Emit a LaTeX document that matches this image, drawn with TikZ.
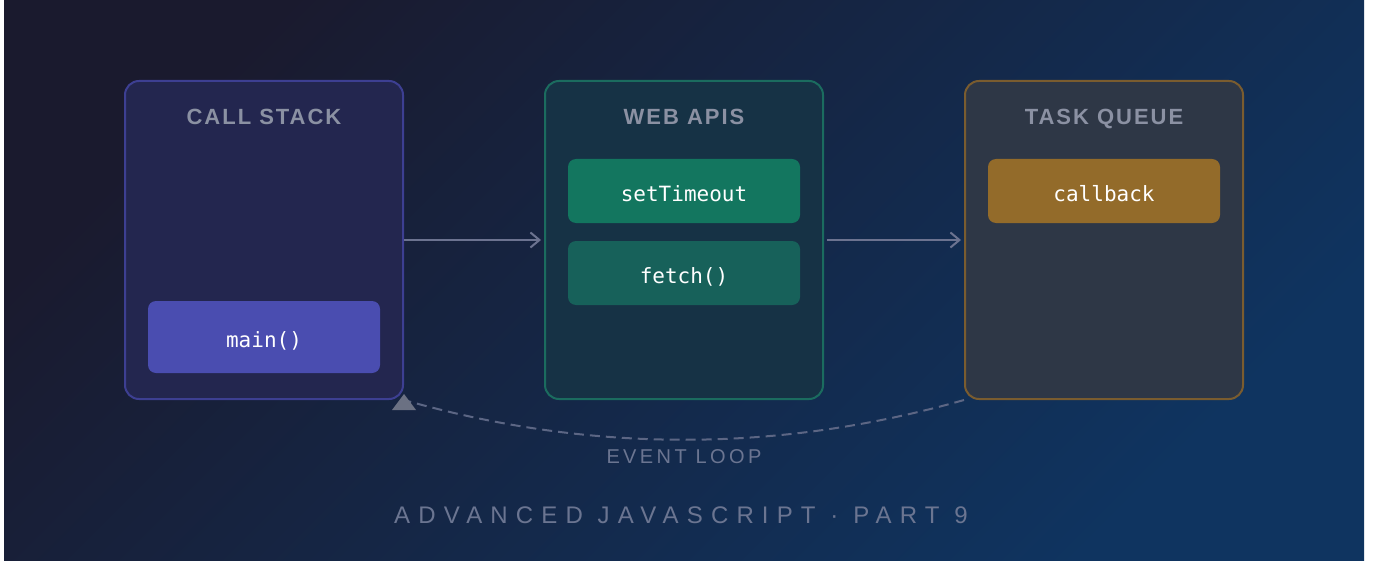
\documentclass[tikz,border=0pt]{standalone}
\usepackage{xcolor}
\usepackage{fontspec}
\usepackage{tikz}
\usetikzlibrary{positioning}
\usetikzlibrary{calc}
\usetikzlibrary{arrows.meta}

\setmainfont{Liberation Sans}
\newfontfamily\panelfont[LetterSpace=9]{Liberation Sans}
\newfontfamily\loopfont[LetterSpace=17]{Liberation Sans}
\newfontfamily\footfont[LetterSpace=34]{Liberation Sans}
\newfontfamily\codefont{DejaVu Sans Mono}

\definecolor{bgA}{HTML}{1A1A2E}
\definecolor{bgB}{HTML}{16213E}
\definecolor{bgC}{HTML}{0F3460}
\definecolor{stackfill}{HTML}{23264F}
\definecolor{stackline}{HTML}{3D3F92}
\definecolor{apifill}{HTML}{163245}
\definecolor{apiline}{HTML}{1B6C5F}
\definecolor{queuefill}{HTML}{2E3746}
\definecolor{queueline}{HTML}{7A5C2F}
\definecolor{mainjob}{HTML}{4A4DB0}
\definecolor{timerjob}{HTML}{13765F}
\definecolor{fetchjob}{HTML}{17615A}
\definecolor{cbjob}{HTML}{936B2A}
\definecolor{titlegray}{HTML}{8B91A3}
\definecolor{flowgray}{HTML}{6C7390}
\definecolor{loopgray}{HTML}{5C6684}
\definecolor{tipgray}{HTML}{6B7183}
\definecolor{textgray}{HTML}{6B7591}

\begin{document}
\begin{tikzpicture}[
	x=1pt, y=-1pt,
	line width=2pt
]
\tikzset{
    panel/.style = {rectangle, rounded corners=14pt, line width=2pt, minimum width=278pt, minimum height=318pt},
		paneltitle/.style = {text=titlegray, inner sep=0pt, text height=16pt, text depth=0pt, font=\panelfont\bfseries\fontsize{22}{26}\selectfont},
		job/.style = {rectangle, rounded corners=8pt, minimum width=232pt, minimum height=64pt, text height=21pt, text depth=0pt, text=white, font=\codefont\fontsize{21}{25}\selectfont},
		flow/.style = {draw=flowgray, line width=2pt, -{Straight Barb[length=9pt,width=15pt,line width=2pt]}, shorten <=0pt, shorten >=3pt},
		evloop/.style = {draw=loopgray, line width=2pt, dash pattern=on 10pt off 6pt}
}
\useasboundingbox (0,0) rectangle (1388,580);
\fill[left color=bgA, middle color=bgB, right color=bgC, shading angle=45] (4,0) rectangle (1364,560);

% the three panels
\node[panel, draw=stackline, fill=stackfill] (CS) at (264,240) {};
\node[panel, draw=apiline, fill=apifill] (WA) at (684,240) {};
\node[panel, draw=queueline, fill=queuefill] (TQ) at (1104,240) {};

\node[paneltitle] (CSt) at ($(CS.north)+(0,37)$) {CALL STACK};
\node[paneltitle] (WAt) at ($(WA.north)+(0,37)$) {WEB APIS};
\node[paneltitle] (TQt) at ($(TQ.north)+(0,37)$) {TASK QUEUE};

% jobs
\node[job, fill=mainjob, minimum height=72pt] (M) at ($(CS.south)+(0,-63)$) {main()};
\node[job, fill=timerjob] (ST) at ($(WA.north)+(0,111)$) {setTimeout};
\node[job, fill=fetchjob, below=16pt of ST] (F) {fetch()};
\node[job, fill=cbjob] (CB) at ($(TQ.north)+(0,111)$) {callback};

% flow
\draw[flow] (CS.east) -- (WA.west);
\draw[flow, shorten <=3pt] (WA.east) -- (TQ.west);

% event loop
\draw[evloop] (TQ.south west) .. controls (778,453) and (590,453) .. (CS.south east);
\fill[tipgray] ($(CS.south east)+(0,-6)$) -- ++(12,16) -- ++(-24,0) -- cycle;
\node[text=textgray, text height=15pt, text depth=0pt, font=\loopfont\fontsize{20}{24}\selectfont] (EL) at ($(WA.south)+(0,56)$) {EVENT LOOP};

\node[text=textgray, text height=17pt, text depth=0pt, font=\footfont\fontsize{24}{28}\selectfont] (FT) at ($(WA.south)+(-3,115)$) {ADVANCED JAVASCRIPT · PART 9};
\end{tikzpicture}
\end{document}
